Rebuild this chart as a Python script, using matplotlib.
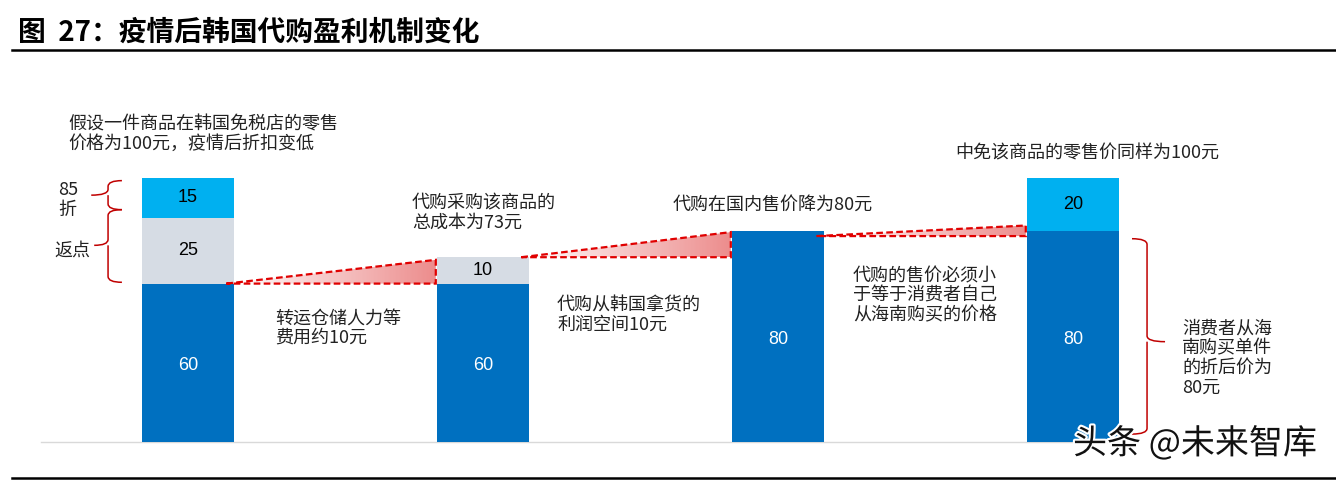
import matplotlib.pyplot as plt
import matplotlib.patheffects as pe
import numpy as np
from matplotlib.path import Path
from matplotlib.patches import PathPatch, Polygon

plt.rcParams['font.family'] = ['Noto Sans CJK SC', 'DejaVu Sans']

# 数据
steps = ['韩国免税店', '代购成本', '代购国内售价', '中免零售价']
base = [60, 60, 80, 80]          # 深蓝色部分
mid = [25, 10, 0, 0]             # 灰色部分(返点/费用)
top = [15, 0, 0, 20]             # 浅蓝色部分(折扣)
# 红色渐变三角: 起点高度, 终点高度
tri_lo = [60, 70, 78]
tri_hi = [69, 79.5, 82]

c_dark = '#0070C0'
c_light = '#00B0F0'
c_gray = '#D6DCE4'
c_red = '#E00000'

W, H = 1336, 480
fig = plt.figure(figsize=(W / 100, H / 100), dpi=100)
ax = fig.add_axes([0, 0, 1, 1])
ax.set_xlim(-188 / 295, (W - 188) / 295)
ax.set_ylim(-(H - 442) / 2.64, 442 / 2.64)
ax.axis('off')

x = np.arange(len(steps))
bw = 0.31

ax.plot([-0.5, 3.2], [0, 0], color='#D9D9D9', lw=1, zorder=1)

b1 = ax.bar(x, base, width=bw, color=c_dark, zorder=2)
b2 = ax.bar(x, mid, width=bw, bottom=base, color=c_gray, zorder=2)
b3 = ax.bar(x, top, width=bw, bottom=np.add(base, mid), color=c_light, zorder=2)

lab = dict(ha='center', va='center', fontsize=13, family='Liberation Sans', zorder=3)
for i in range(len(steps)):
    ax.text(x[i], base[i] / 2 - 1, str(base[i]), color='white', **lab)
    if mid[i]:
        ax.text(x[i], base[i] + mid[i] / 2, str(mid[i]), color='black', **lab)
    if top[i]:
        ax.text(x[i], base[i] + mid[i] + top[i] / 2, str(top[i]), color='black', **lab)

# 渐变三角
grad = np.zeros((1, 256, 4))
grad[..., 0] = 0.88
grad[..., 1] = 0.25
grad[..., 2] = 0.25
grad[..., 3] = np.linspace(0.0, 0.6, 256)
for i in range(len(tri_lo)):
    x0 = x[i] + bw / 2 - 0.025
    x1 = x[i + 1] - bw / 2 - 0.005
    poly = Polygon([[x0, tri_lo[i]], [x1, tri_hi[i]], [x1, tri_lo[i]]], closed=True,
                   fill=False, edgecolor=c_red, lw=1.6, ls=(0, (3, 1.5)), zorder=4)
    ax.add_patch(poly)
    im = ax.imshow(grad, extent=(x0, x1, tri_lo[i], tri_hi[i]), aspect='auto',
                   zorder=3, interpolation='bilinear')
    im.set_clip_path(poly)
ax.set_xlim(-188 / 295, (W - 188) / 295)
ax.set_ylim(-(H - 442) / 2.64, 442 / 2.64)


def brace(xv, xarm, xtip, ylo, yhi, ymid, r=2.2):
    verts = [(xarm, yhi), (xv, yhi), (xv, yhi - r),
             (xv, ymid + r), (xv, ymid), (xtip, ymid),
             (xv, ymid), (xv, ymid - r),
             (xv, ylo + r), (xv, ylo), (xarm, ylo)]
    codes = [Path.MOVETO, Path.CURVE3, Path.CURVE3,
             Path.LINETO, Path.CURVE3, Path.LINETO,
             Path.MOVETO, Path.CURVE3,
             Path.LINETO, Path.CURVE3, Path.CURVE3]
    ax.add_patch(PathPatch(Path(verts, codes), fill=False, edgecolor='#C00000', lw=1.1, zorder=4))


brace(-0.271, -0.224, -0.328, 88, 99, 93.5)
brace(-0.271, -0.224, -0.318, 60.5, 88, 74.5)
brace(3.251, 3.20, 3.312, 3, 77, 38)

# 注释文字
def note(px, py, s, **kw):
    fig.text(px / W, 1 - py / H, s, ha='left', va='center', fontsize=13,
             color='#222222', linespacing=1.12, **kw)


note(68, 134, '假设一件商品在韩国免税店的零售\n价格为100元，疫情后折扣变低')
note(58, 200, '85\n折')
note(54, 251, '返点')
note(275, 328, '转运仓储人力等\n费用约10元')
note(412, 213, '代购采购该商品的\n总成本为73元')
note(557, 315, '代购从韩国拿货的\n利润空间10元')
note(673, 205, '代购在国内售价降为80元')
note(853, 296, '代购的售价必须小\n于等于消费者自己\n从海南购买的价格')
note(955, 153, '中免该商品的零售价同样为100元')
note(1182, 358, '消费者从海\n南购买单件\n的折后价为\n80元')

# 标题
fig.text(18 / W, 1 - 33 / H, '图  27：疫情后韩国代购盈利机制变化', ha='left', va='center',
         fontsize=20, fontweight='bold', color='black')
fig.add_artist(plt.Line2D([12 / W, 1], [1 - 50 / H, 1 - 50 / H], color='black', lw=1.8))
fig.add_artist(plt.Line2D([12 / W, 1], [1 - 478 / H, 1 - 478 / H], color='black', lw=1.8))

# 水印
fig.text(1073 / W, 1 - 444 / H, '头条 @未来智库', ha='left', va='center', fontsize=24.5,
         color='#111111', path_effects=[pe.withStroke(linewidth=3, foreground='white')])

fig.savefig('out.png', dpi=100)
